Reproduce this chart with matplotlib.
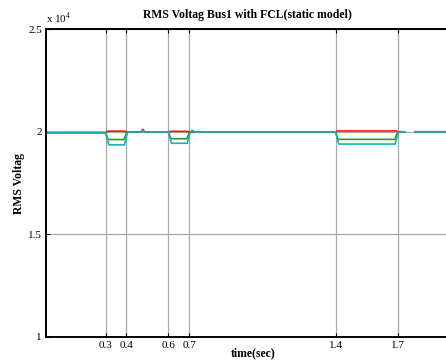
import numpy as np
import matplotlib
matplotlib.use("Agg")
import matplotlib.pyplot as plt

plt.rcParams['font.family'] = ['Liberation Serif', 'DejaVu Serif']
plt.rcParams['mathtext.fontset'] = 'stix'

# x tick labels (time, sec)
XTICKS = [0.3, 0.4, 0.6, 0.7, 1.4, 1.7]
XTICK_LABELS = ["0.3", "0.4", "0.6", "0.7", "1.4", "1.7"]
YTICKS = [10000, 15000, 20000, 25000]
YTICK_LABELS = ["1", "1.5", "2", "2.5"]

# series (time, volts); nan = short dropout after 1.7 s
t_red = [0.015, 0.30, 0.31, 0.39, 0.40, 0.47, 0.478, 0.486, 0.60, 0.61, 0.69, 0.70,
         1.40, 1.41, 1.69, 1.70, 1.73, 1.73, 1.78, 1.78, 2.0]
v_red = [19960, 19960, 20030, 20030, 19990, 19990, 20120, 19990, 19990, 20020, 20020, 19990,
         19990, 20040, 20040, 20000, 20000, np.nan, np.nan, 20000, 20000]

t_green = [0.015, 0.30, 0.312, 0.388, 0.402, 0.47, 0.478, 0.486, 0.60, 0.612, 0.688, 0.702,
           0.715, 0.725, 1.40, 1.412, 1.685, 1.69, 1.70, 1.73, 1.73, 1.78, 1.78, 2.0]
v_green = [19960, 19960, 19620, 19620, 19990, 19990, 20080, 19990, 19990, 19660, 19660, 19990,
           20060, 19990, 19990, 19630, 19630, 19820, 20000, 20000, np.nan, np.nan, 20000, 20000]

t_cyan = [0.015, 0.30, 0.315, 0.39, 0.405, 0.47, 0.478, 0.486, 0.60, 0.615, 0.69, 0.705,
          0.715, 0.725, 1.40, 1.415, 1.685, 1.70, 1.73, 1.73, 1.78, 1.78, 2.0]
v_cyan = [19960, 19960, 19360, 19360, 19990, 19990, 20060, 19990, 19990, 19440, 19440, 19990,
          20060, 19990, 19990, 19400, 19400, 19990, 19990, np.nan, np.nan, 19990, 19990]

fig = plt.figure(figsize=(4.46, 3.62), dpi=100)
ax = fig.add_axes([46 / 446, 25.3 / 362, 415 / 446, 307.4 / 362])

ax.plot(t_green, v_green, color="#2a9a2a", lw=1.2)
ax.plot(t_red, v_red, color="#ff1010", lw=1.2)
ax.plot(t_cyan, v_cyan, color="#14b4b4", lw=1.2)

ax.set_xlim(0.015, 2.0)
ax.set_ylim(10000, 25000)
ax.set_xticks(XTICKS)
ax.set_xticklabels(XTICK_LABELS, fontsize=8)
ax.set_yticks(YTICKS)
ax.set_yticklabels(YTICK_LABELS, fontsize=8)
ax.tick_params(direction="in", length=3, width=0.8, top=True, right=True, pad=3)
ax.grid(True, color="#a8a8a8", lw=0.9)
for s in ax.spines.values():
    s.set_linewidth(1.4)

ax.text(0.0, 1.012, r"x 10$^4$", transform=ax.transAxes, fontsize=8, ha="left", va="bottom")
ax.set_title("RMS Voltag Bus1 with FCL(static model)", fontsize=8.5, fontweight="bold", pad=8,
             x=(247 - 46) / 415)
ax.set_xlabel("time(sec)", fontsize=8.5, fontweight="bold", labelpad=-2)
ax.set_ylabel("RMS Voltag", fontsize=8.5, fontweight="bold", labelpad=2)

fig.savefig("out.png", dpi=100)
